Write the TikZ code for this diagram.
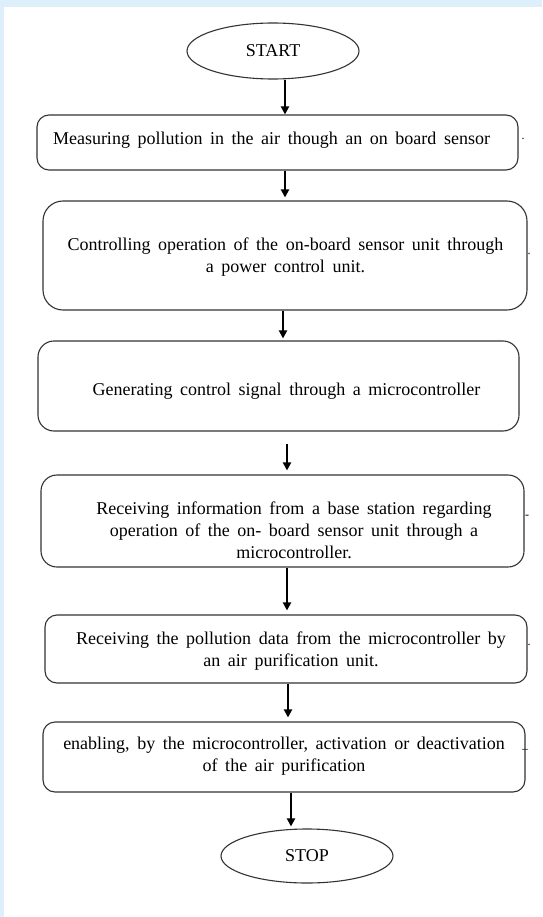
\documentclass[tikz,border=0pt]{standalone}
\usepackage{fontspec}
\setmainfont{Liberation Serif}
\usetikzlibrary{shapes.geometric}
\usetikzlibrary{arrows.meta}
\definecolor{pageblue}{RGB}{220,239,250}
\newcommand{\flowfont}{\fontsize{18}{22}\selectfont\spaceskip=0.42em plus 0.1em\relax}

\begin{document}
\begin{tikzpicture}[x=1pt,y=-1pt,
  box/.style={draw=black!80, line width=1.1pt, rounded corners=12pt},
  term/.style={ellipse, draw=black!80, line width=1.1pt, minimum width=172pt, minimum height=56pt, inner sep=0pt},
  txt/.style={align=center, font=\flowfont},
  flow/.style={line width=2.2pt, -{Triangle[length=8pt,width=8pt]}},
  stray/.style={font=\fontsize{12}{12}\selectfont, inner sep=0pt}]
\fill [pageblue] (0,0) rectangle (542,917);
\fill [white] (4,7) rectangle (542,917);

\node [term, txt] (start) at (273,51) {START};

\node [box, minimum width=481pt, minimum height=55pt] (b1) at (277.5,142.5) {};
\node [txt] (t1) at (271.5,140) {Measuring pollution in the air though an on board sensor};
\node [stray] (s1) at (523,139) {.};

\node [box, minimum width=484pt, minimum height=109pt, rounded corners=20pt] (b2) at (285,255.5) {};
\node [txt] (t2) at (285.5,257) {Controlling operation of the on-board sensor unit through\\ a power control unit.};
\node [stray] (s2) at (529,254) {.};

\node [box, minimum width=481pt, minimum height=90pt, rounded corners=16pt] (b3) at (278.5,386) {};
\node [txt] (t3) at (286.5,391) {Generating control signal through a microcontroller};

\node [box, minimum width=483pt, minimum height=92pt, rounded corners=16pt] (b4) at (282.5,521) {};
\node [txt] (t4) at (294,530) {Receiving information from a base station regarding\\ operation of the on- board sensor unit through a\\ microcontroller.};
\node [stray] (s4) at (527,517) {-};

\node [box, minimum width=482pt, minimum height=68pt] (b5) at (286,649) {};
\node [txt] (t5) at (291,651) {Receiving the pollution data from the microcontroller by\\ an air purification unit.};
\node [stray] (s5) at (529,645) {.};

\node [box, minimum width=482pt, minimum height=70pt] (b6) at (284,757) {};
\node [txt] (t6) at (284,756) {enabling, by the microcontroller, activation or deactivation\\ of the air purification};
\node [stray] (s6) at (525,749) {\_};

\node [term, txt, minimum height=54pt] (stop) at (307,856) {STOP};

\draw [flow] ([xshift=12pt]start.south) -- ([xshift=12pt]start.south |- b1.north);
\draw [flow, shorten >=3pt] ([xshift=7.5pt]b1.south) -- ([xshift=7.5pt]b1.south |- b2.north);
\draw [flow, shorten >=2pt] ([xshift=-2pt]b2.south) -- ([xshift=-2pt]b2.south |- b3.north);
\draw [flow, shorten >=4pt] ([shift={(8.5pt,-12pt)}]b3.south) -- ([xshift=8.5pt]b3.south |- b4.north);
\draw [flow, shorten >=4pt] ([xshift=4.5pt]b4.south) -- ([xshift=4.5pt]b4.south |- b5.north);
\draw [flow, shorten >=4pt] ([xshift=2pt]b5.south) -- ([xshift=2pt]b5.south |- b6.north);
\draw [flow, shorten >=2pt] ([xshift=7pt]b6.south) -- ([xshift=7pt]b6.south |- stop.north);
\end{tikzpicture}
\end{document}
